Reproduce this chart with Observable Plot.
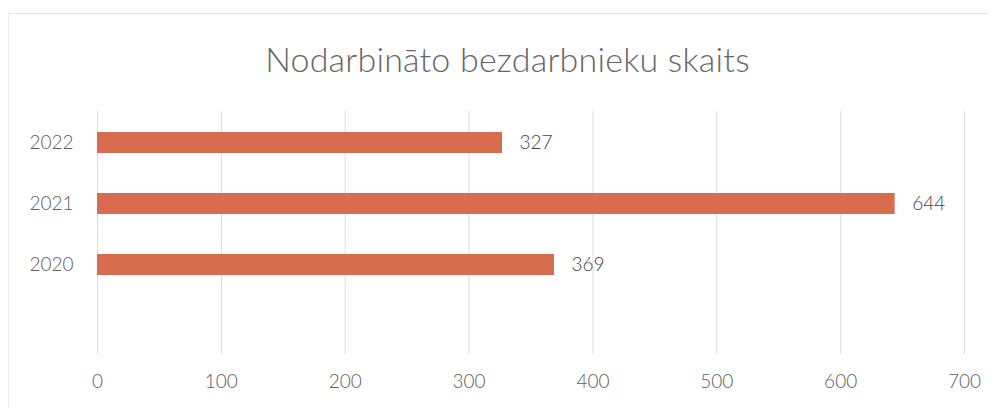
<!DOCTYPE html>
<html>
<head>
<meta charset="utf-8">
<script src="https://cdn.jsdelivr.net/npm/d3@7"></script>
<script src="https://cdn.jsdelivr.net/npm/@observablehq/plot@0.6"></script>
<style>
  html, body { margin: 0; padding: 0; background: #fff; }
  #wrap { position: relative; width: 997px; height: 412px; overflow: hidden; }
  #border { position: absolute; left: 8px; top: 13px; width: 980px; height: 395px; border-top: 1px solid #e4e4e4; border-left: 1px solid #ececec; box-sizing: border-box; }
  #title { position: absolute; left: 9px; top: 0; width: 997px; height: 100px; text-align: center;
           font-family: Lato, "Open Sans", sans-serif; font-weight: 300; font-size: 34px; color: #666; line-height: 118px; letter-spacing: 0.2px; }
  #chart { position: absolute; left: 0; top: 100px; }
</style>
</head>
<body>
<div id="wrap">
  <div id="border"></div>
  <div id="title">Nodarbināto bezdarbnieku skaits</div>
  <div id="chart"></div>
</div>
<script>
const title = "Nodarbināto bezdarbnieku skaits";
const years = ["2022", "2021", "2020"];
const values = [327, 644, 369];
const xTicks = [0, 100, 200, 300, 400, 500, 600, 700];

const data = years.map((y, i) => ({year: y, value: values[i]}));

const chart = Plot.plot({
  width: 997,
  height: 312,
  marginLeft: 97,
  marginRight: 33,
  marginTop: 11,
  marginBottom: 58,
  style: { fontFamily: "Lato, 'Open Sans', sans-serif", fontWeight: 300, background: "transparent", color: "#595959" },
  x: { domain: [0, 700], ticks: xTicks, label: null },
  y: { domain: years, range: [11, 11 + 3 * 61.5], paddingInner: 0.66, paddingOuter: 0.33, label: null },
  marks: [
    Plot.ruleX(xTicks, { stroke: "#dcdcdc", strokeWidth: 1 }),
    Plot.barX(data, { x: "value", y: "year", fill: "#d86c4f" }),
    Plot.text(data, { x: "value", y: "year", text: d => String(d.value), dx: 17, textAnchor: "start", fontSize: 19, fontWeight: 300, fill: "#444" }),
    Plot.axisY({ tickSize: 0, tickPadding: 24, fontSize: 19, fontWeight: 300, label: null, color: "#606060" }),
    Plot.axisX({ ticks: xTicks, tickSize: 0, tickPadding: 20, fontSize: 19, fontWeight: 300, label: null, color: "#606060" })
  ]
});
document.getElementById("chart").appendChild(chart);
</script>
</body>
</html>
